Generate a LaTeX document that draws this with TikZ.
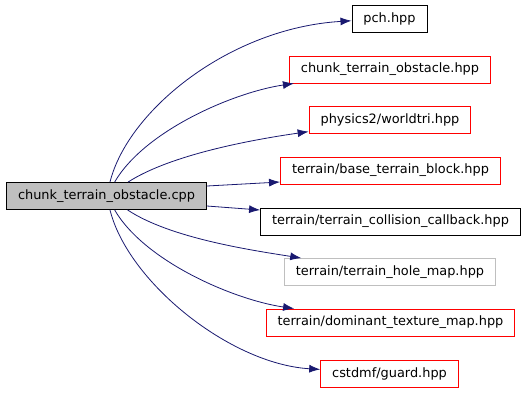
\documentclass[tikz,border=0pt]{standalone}
\usepackage{fontspec}
\setmainfont{DejaVu Sans}
\usetikzlibrary{arrows.meta}
\definecolor{edgeblue}{HTML}{191970}
\definecolor{boxgray}{HTML}{BFBFBF}
\tikzset{
  file/.style={draw=black,line width=0.9bp,minimum height=27bp,inner xsep=11.5bp,inner ysep=0pt,
    font=\fontsize{12.9bp}{15bp}\selectfont},
  missing/.style={file,draw=red},
  hidden/.style={file,draw=boxgray},
  inc/.style={draw=edgeblue,line width=0.8bp,-{Latex[length=11bp,width=8bp]}}
}
\begin{document}
\begin{tikzpicture}[x=1bp,y=-1bp]
\path[use as bounding box] (0,0) rectangle (528,392);
\node[file,fill=boxgray] (cpp) at (106.5,196) {chunk\_terrain\_obstacle.cpp};
\node[file] (pch) at (389.5,18.5) {pch.hpp};
\node[missing] (hdr) at (390,69.5) {chunk\_terrain\_obstacle.hpp};
\node[missing] (tri) at (390,120) {physics2/worldtri.hpp};
\node[missing] (blk) at (390.5,170.5) {terrain/base\_terrain\_block.hpp};
\node[file] (cb) at (390.5,221.5) {terrain/terrain\_collision\_callback.hpp};
\node[hidden] (hole) at (390,272) {terrain/terrain\_hole\_map.hpp};
\node[missing] (dom) at (390.5,322.5) {terrain/dominant\_texture\_map.hpp};
\node[missing] (grd) at (389.5,373.5) {cstdmf/guard.hpp};
\draw[inc] (cpp) .. controls (128,110) and (230,28) .. (pch);
\draw[inc] (cpp) .. controls (145,130) and (235,92) .. (hdr);
\draw[inc] (cpp) .. controls (170,155) and (250,140) .. (tri);
\draw[inc] (cpp.east |- 0,186) -- (blk.west |- 0,182);
\draw[inc] (cpp.east |- 0,206) -- (cb.west |- 0,210);
\draw[inc] (cpp) .. controls (170,238) and (250,250) .. (hole);
\draw[inc] (cpp) .. controls (145,262) and (235,300) .. (dom);
\draw[inc] (cpp) .. controls (128,282) and (230,364) .. (grd);
\end{tikzpicture}
\end{document}
